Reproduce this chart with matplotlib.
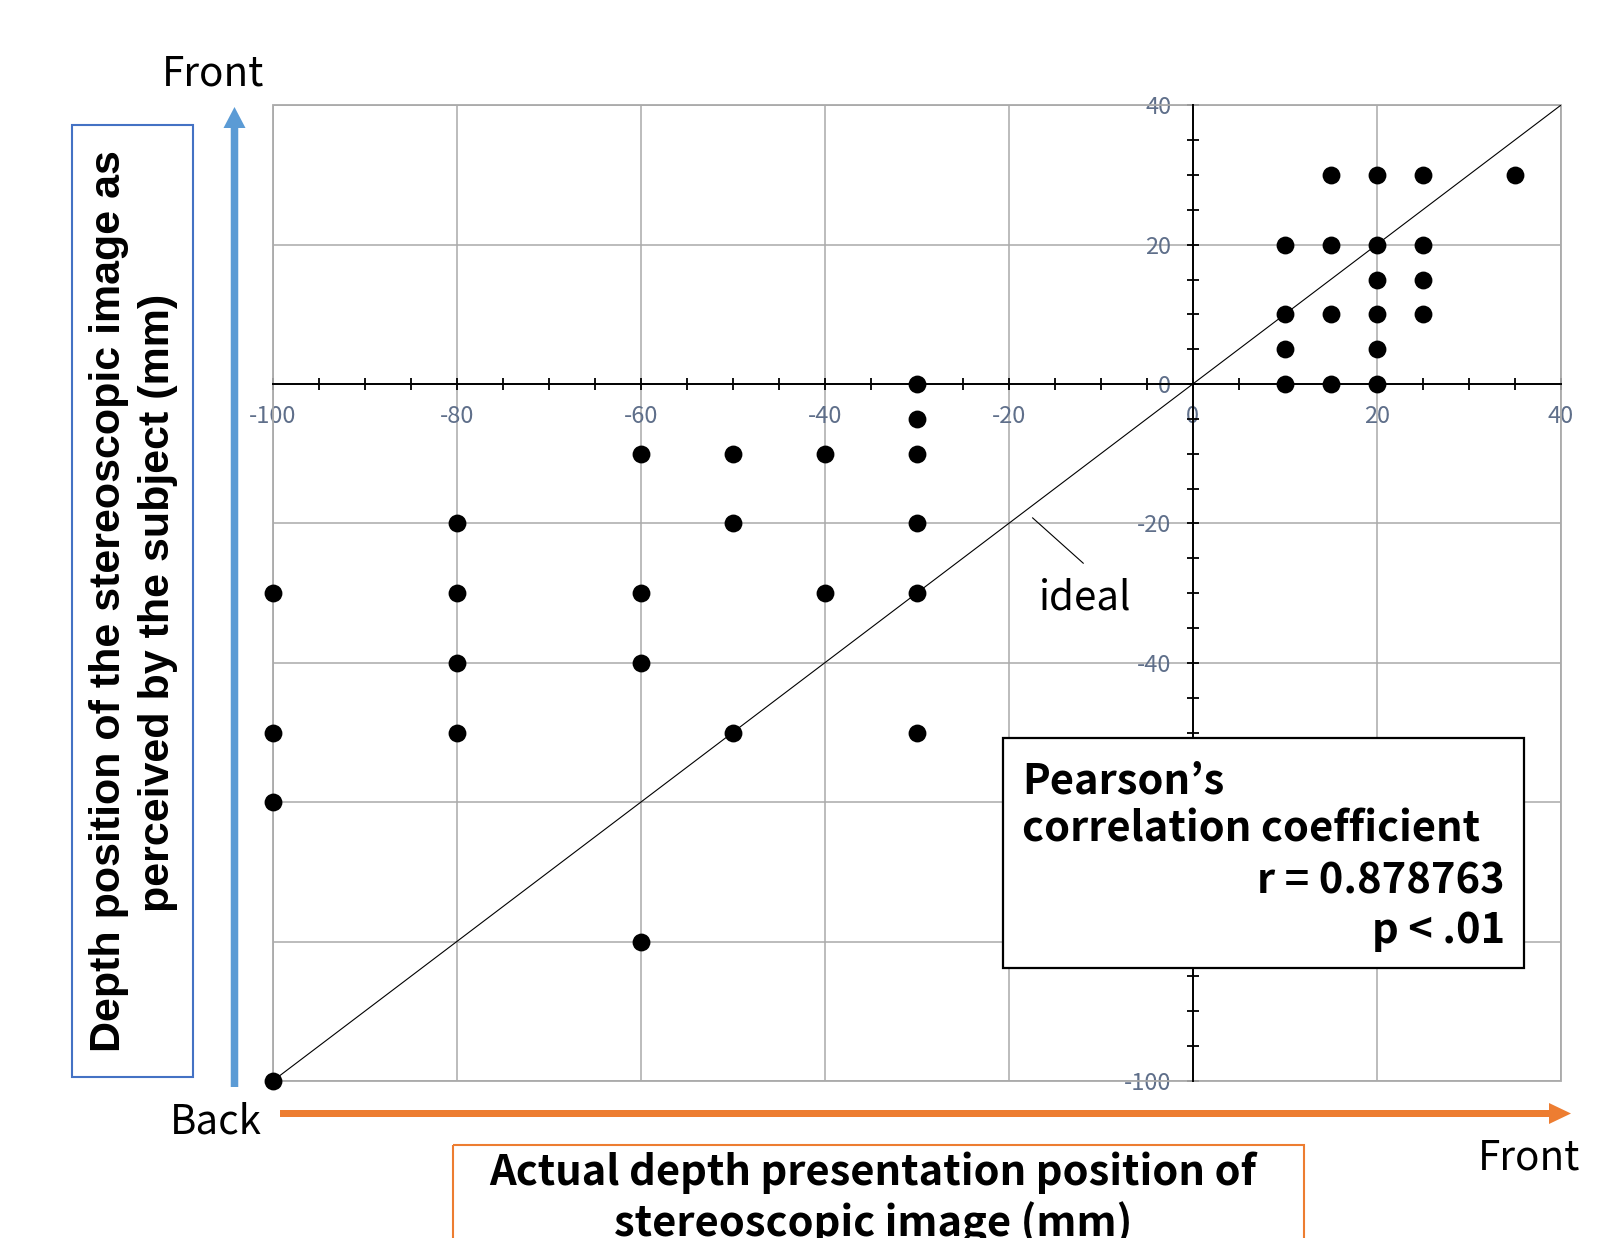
import numpy as np
import matplotlib.pyplot as plt
from matplotlib.patches import Rectangle, FancyArrow
from matplotlib.ticker import MultipleLocator

plt.rcParams['axes.unicode_minus'] = False

# actual depth position (x) vs perceived depth position (y), mm
actual = [15, 20, 25, 35, 10, 15, 20, 25, 20, 25, 10, 15, 20, 25, 10, 20, 10, 15, 20,
          -30, -30, -60, -50, -40, -30, -80, -50, -30, -100, -80, -60, -40, -30,
          -80, -60, -100, -80, -50, -30, -100, -60, -100]
perceived = [30, 30, 30, 30, 20, 20, 20, 20, 15, 15, 10, 10, 10, 10, 5, 5, 0, 0, 0,
             0, -5, -10, -10, -10, -10, -20, -20, -20, -30, -30, -30, -30, -30,
             -40, -40, -50, -50, -50, -50, -60, -80, -100]
ideal = [-100, 40]
r_value = 0.878763

W, H = 1620, 1238
JP = 'Noto Sans CJK JP'
TICK_C = '#5F6F8A'
GRID_C = '#AAAAAA'

fig = plt.figure(figsize=(W / 100, H / 100), dpi=100)

# main plot area (pixel box 272.7..1560.7 x 105.3..1081)
ax = fig.add_axes([272.7 / W, 1 - 1081 / H, 1288 / W, 975.7 / H])
ax.set_xlim(-100, 40)
ax.set_ylim(-100, 40)

ax.xaxis.set_major_locator(MultipleLocator(20))
ax.yaxis.set_major_locator(MultipleLocator(20))
ax.xaxis.set_minor_locator(MultipleLocator(5))
ax.yaxis.set_minor_locator(MultipleLocator(5))
ax.grid(True, which='major', color=GRID_C, lw=1.1, zorder=0)
ax.set_axisbelow(True)

# axes crossing at the origin
for s in ['left', 'bottom']:
    ax.spines[s].set_position(('data', 0))
    ax.spines[s].set_color('black')
    ax.spines[s].set_linewidth(1.4)
    ax.spines[s].set_zorder(2)
for s in ['top', 'right']:
    ax.spines[s].set_visible(False)
ax.add_patch(Rectangle((0, 0), 1, 1, transform=ax.transAxes, fill=False,
                       ec=GRID_C, lw=1.3, clip_on=False, zorder=1))

ax.tick_params(which='both', direction='inout', length=9, width=1.3, color='black')
ax.tick_params(axis='both', which='major', labelsize=17, labelcolor=TICK_C)
ax.tick_params(axis='x', pad=10.5)
ax.tick_params(axis='y', pad=11)
for lab in ax.get_xticklabels() + ax.get_yticklabels():
    lab.set_family(JP)

ax.plot(ideal, ideal, color='black', lw=0.8, zorder=2)
ax.scatter(actual, perceived, s=165, color='black', zorder=3, clip_on=False, linewidths=0)

# "ideal" label with leader
ax.plot([-17.4, -11.9], [-19.2, -25.7], color='black', lw=0.8, zorder=2)
ax.text(-16.7, -32.4, 'ideal', family=JP, fontsize=29, ha='left', va='baseline')

# overlay in pixel coordinates for annotations
ov = fig.add_axes([0, 0, 1, 1], zorder=5)
ov.set_xlim(0, W)
ov.set_ylim(H, 0)
ov.axis('off')

# correlation box
ov.add_patch(Rectangle((1003, 738), 521, 230, fc='white', ec='black', lw=1.6))
fs = 30
ov.text(1022, 793, 'Pearson’s', family=JP, fontsize=fs, fontweight='bold',
        ha='left', va='baseline')
ov.text(1022, 842, 'correlation coefficient', family=JP, fontsize=fs, fontweight='bold',
        ha='left', va='baseline')
ov.text(1505, 893, f'r = {r_value}', family=JP, fontsize=fs, fontweight='bold',
        ha='right', va='baseline')
ov.text(1505, 943, 'p < .01', family=JP, fontsize=fs, fontweight='bold',
        ha='right', va='baseline')

# direction arrows
ov.add_patch(FancyArrow(234.5, 1087, 0, 107 - 1087, width=7.5, head_width=22,
                        head_length=21, length_includes_head=True,
                        color='#5B9BD5', lw=0))
ov.add_patch(FancyArrow(280, 1113.5, 1571 - 280, 0, width=7, head_width=21,
                        head_length=22, length_includes_head=True,
                        color='#ED7D31', lw=0))

ov.text(162, 85, 'Front', family=JP, fontsize=29, ha='left', va='baseline')
ov.text(170, 1133, 'Back', family=JP, fontsize=29, ha='left', va='baseline')
ov.text(1478, 1170, 'Front', family=JP, fontsize=29, ha='left', va='baseline')

# y label box
ov.add_patch(Rectangle((72, 125), 121, 952, fill=False, ec='#4472C4', lw=1.5))
ov.text(120, 601, 'Depth position of the stereoscopic image as', family='Liberation Sans',
        fontsize=31, fontweight='bold', rotation=90, rotation_mode='anchor',
        ha='center', va='baseline')
ov.text(169, 603, 'perceived by the subject (mm)', family='Liberation Sans',
        fontsize=31, fontweight='bold', rotation=90, rotation_mode='anchor',
        ha='center', va='baseline')

# x label box
ov.add_patch(Rectangle((453, 1145), 851, 200, fill=False, ec='#ED7D31', lw=1.5))
ov.text(873, 1185, 'Actual depth presentation position of', family=JP, fontsize=fs,
        fontweight='bold', ha='center', va='baseline')
ov.text(873, 1236, 'stereoscopic image (mm)', family=JP, fontsize=fs,
        fontweight='bold', ha='center', va='baseline')

fig.savefig('out.png', dpi=100)
